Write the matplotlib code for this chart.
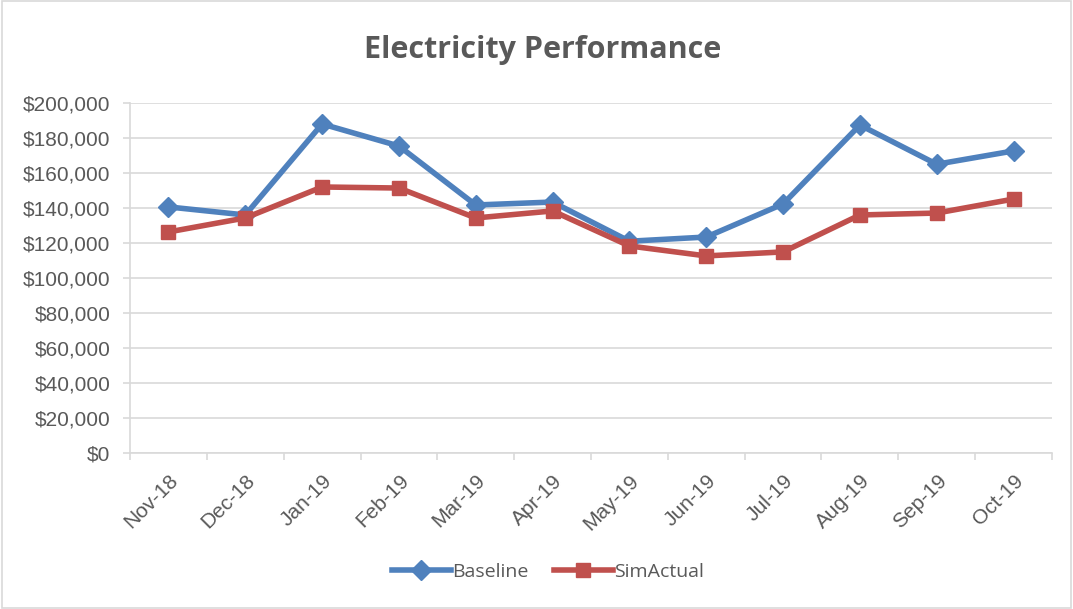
import numpy as np
import matplotlib.pyplot as plt
from matplotlib.ticker import FuncFormatter, FixedLocator

months = ["Nov-18", "Dec-18", "Jan-19", "Feb-19", "Mar-19", "Apr-19",
          "May-19", "Jun-19", "Jul-19", "Aug-19", "Sep-19", "Oct-19"]
baseline = [140600, 136000, 188000, 175400, 141700, 143400,
            121000, 123400, 142300, 187400, 165000, 172600]
sim_actual = [126300, 134300, 152000, 151400, 134300, 138300,
              118300, 112600, 114900, 136000, 137100, 145100]

grid_col = "#d9d9d9"
text_col = "#595959"

fig = plt.figure(figsize=(10.73, 6.09), dpi=100)
# light border around the chart
fig.patches.append(plt.Rectangle((0.002, 0.002), 0.996, 0.996, transform=fig.transFigure,
                                 fill=False, edgecolor=grid_col, linewidth=1.2))
ax = fig.add_axes([0.1212, 0.2562, 0.8592, 0.5747])

x = np.arange(len(months))
ax.plot(x, baseline, color="#4F81BD", linewidth=4, marker="D", markersize=10.5, label="Baseline")
ax.plot(x, sim_actual, color="#C0504D", linewidth=4, marker="s", markersize=10.5, label="SimActual")

ax.set_xlim(-0.5, len(months) - 0.5)
ax.set_ylim(0, 200000)
ax.set_yticks(np.arange(0, 200001, 20000))
ax.yaxis.set_major_formatter(FuncFormatter(lambda v, p: f"${v:,.0f}"))
ax.set_xticks(x)
ax.set_xticklabels(months, rotation=45, ha="right", rotation_mode="anchor",
                   fontsize=15, color=text_col, family="Liberation Sans")
ax.xaxis.set_minor_locator(FixedLocator(np.arange(-0.5, len(months), 1)))
ax.tick_params(axis="x", which="major", length=0, pad=13)
ax.tick_params(axis="x", which="minor", length=5, color=grid_col, width=1.2)
ax.tick_params(axis="y", length=5, color=grid_col, width=1.2, labelsize=15,
               labelcolor=text_col, pad=9)
for lbl in ax.get_yticklabels():
    lbl.set_family("Liberation Sans")

ax.grid(axis="y", color=grid_col, linewidth=1.2)
ax.set_axisbelow(True)
for side in ["top", "right"]:
    ax.spines[side].set_visible(False)
ax.spines["left"].set_color(grid_col)
ax.spines["bottom"].set_color(grid_col)
ax.spines["left"].set_linewidth(1.2)
ax.spines["bottom"].set_linewidth(1.2)

fig.text(0.5055, 0.918, "Electricity Performance", ha="center", va="center",
         fontsize=22, fontweight="bold", color=text_col, family="Open Sans")

fig.legend(loc="center", bbox_to_anchor=(0.511, 0.061), ncol=2, frameon=False,
           labelcolor=text_col, handlelength=3.0, columnspacing=1.3,
           handletextpad=0.1, prop={"family": "Open Sans", "size": 14})

fig.savefig("out.png", dpi=100)
